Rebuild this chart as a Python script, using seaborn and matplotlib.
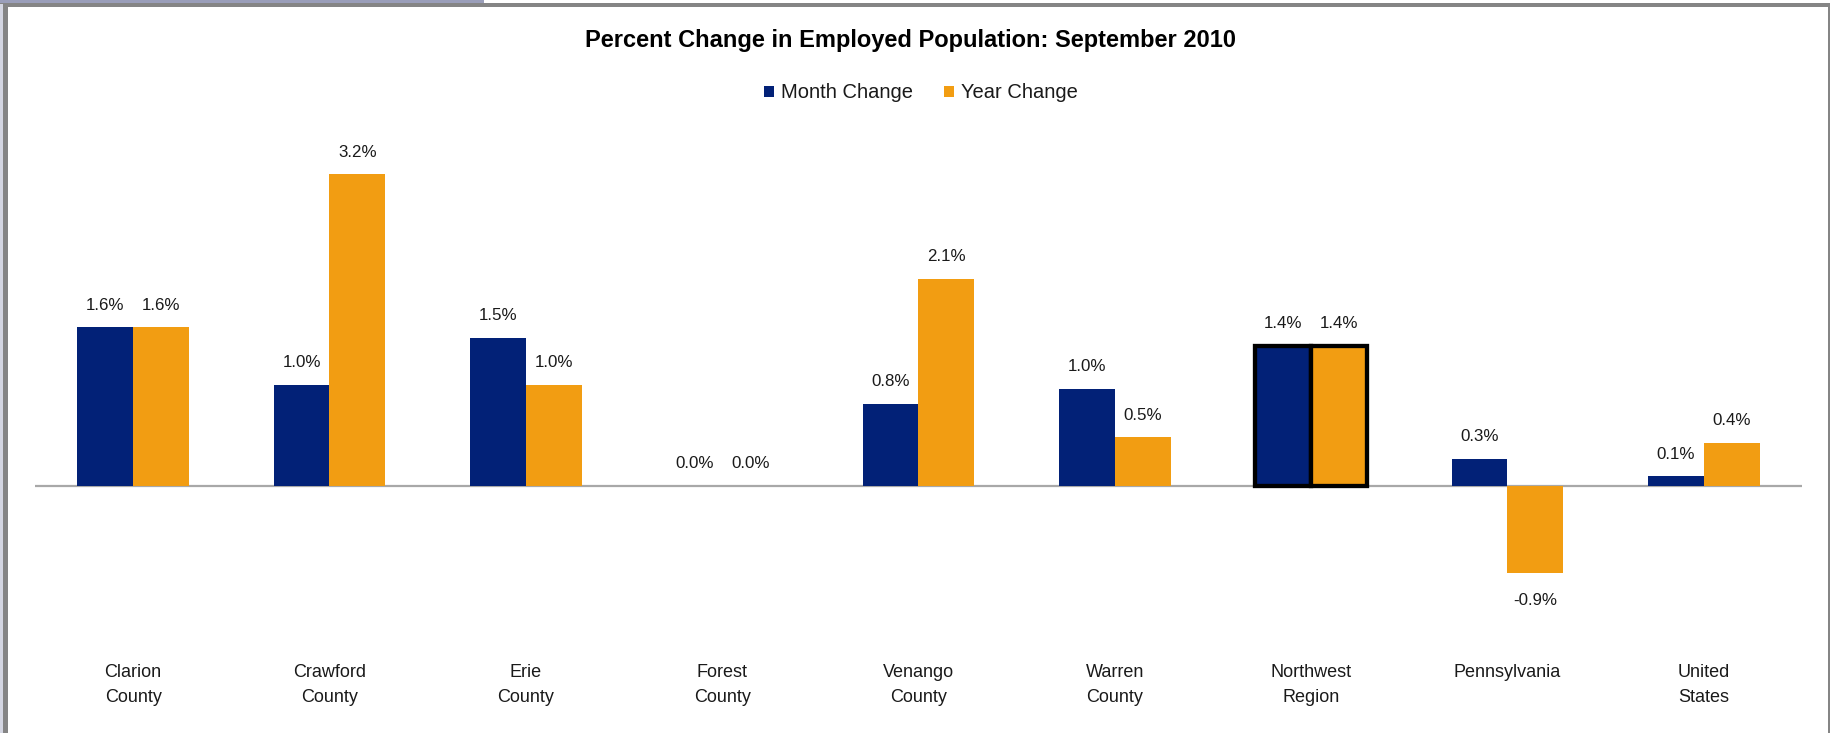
import pandas as pd
import matplotlib
matplotlib.use('Agg')
import matplotlib.pyplot as plt
import seaborn as sns

# Values (percent change)
regions = ['Clarion\nCounty', 'Crawford\nCounty', 'Erie\nCounty', 'Forest\nCounty',
           'Venango\nCounty', 'Warren\nCounty', 'Northwest\nRegion', 'Pennsylvania',
           'United\nStates']
month_change = [1.63, 1.04, 1.52, 0.0, 0.84, 1.00, 1.44, 0.28, 0.10]
year_change = [1.63, 3.20, 1.04, 0.0, 2.13, 0.50, 1.44, -0.89, 0.44]
series_names = ['Month Change', 'Year Change']
highlight = 'Northwest\nRegion'

navy = '#022177'
orange = '#f29d12'

sns.set_theme(style='white')
plt.rcParams['font.family'] = ['Liberation Sans', 'DejaVu Sans']

# long format for seaborn
df = pd.DataFrame({
    'region': regions * 2,
    'change': month_change + year_change,
    'series': [series_names[0]] * len(regions) + [series_names[1]] * len(regions),
})

W, H = 1831, 733
fig = plt.figure(figsize=(W / 100, H / 100), dpi=100)
fig.patch.set_facecolor('white')

# plot area placed in pixel terms
left, right, top, bottom = 35, 1802, 130, 655
ax = fig.add_axes([left / W, 1 - bottom / H, (right - left) / W, (bottom - top) / H])

sns.barplot(data=df, x='region', y='change', hue='series', order=regions,
            hue_order=series_names, palette=[navy, orange], width=0.57,
            saturation=1, linewidth=0, ax=ax)

ax.set_xlim(-0.5, len(regions) - 0.5)
ax.set_ylim(-1.735, 3.655)
ax.axhline(0, color='#a8a8a8', lw=1.6, zorder=1)
for s in ax.spines.values():
    s.set_visible(False)
ax.set_xlabel('')
ax.set_ylabel('')
ax.set_yticks([])
ax.tick_params(axis='x', length=0, pad=6.5, labelsize=13, colors='#1a1a1a')
for t in ax.get_xticklabels():
    t.set_linespacing(1.65)

# data labels + outline of the highlighted region
hi = regions.index(highlight)
for cont, vals in zip(ax.containers, [month_change, year_change]):
    for i, (bar, v) in enumerate(zip(cont, vals)):
        x = bar.get_x() + bar.get_width() / 2
        off = 16 if v >= 0 else -20
        ax.annotate(f'{v:.1f}%', (x, v), xytext=(0, off), textcoords='offset points',
                    ha='center', va='center', fontsize=12.2, color='#1a1a1a')
        bar.set_zorder(2)
        if i == hi:
            bar.set_edgecolor('black')
            bar.set_linewidth(3.1)
            bar.set_zorder(3)

handles, labels = ax.get_legend_handles_labels()
ax.get_legend().remove()
fig.legend(handles, labels, loc='center', bbox_to_anchor=(921 / W, 1 - 93 / H),
           ncol=2, frameon=False, fontsize=14.5, handlelength=0.5, handleheight=0.45,
           handletextpad=0.35, columnspacing=1.5, labelcolor='#1a1a1a')

fig.text(911 / W, 1 - 41 / H, 'Percent Change in Employed Population: September 2010',
         ha='center', va='center', fontsize=17, fontweight='bold', color='black')

# window frame around the chart
fig.add_artist(plt.Rectangle((0, 1 - 3.5 / H), 484 / W, 3.5 / H, color='#9a9eb9',
                             transform=fig.transFigure, lw=0))
fig.add_artist(plt.Rectangle((0, 1 - 7 / H), 1, 3.5 / H, color='#858585',
                             transform=fig.transFigure, lw=0))
fig.add_artist(plt.Rectangle((0, 0), 3.5 / W, 1 - 3.5 / H, color='#d4d6e2',
                             transform=fig.transFigure, lw=0))
fig.add_artist(plt.Rectangle((3.5 / W, 0), 4.5 / W, 1 - 3.5 / H, color='#858585',
                             transform=fig.transFigure, lw=0))
fig.add_artist(plt.Rectangle((1 - 3 / W, 0), 3 / W, 1 - 3.5 / H, color='#858585',
                             transform=fig.transFigure, lw=0))

fig.savefig('out.png', dpi=100)
